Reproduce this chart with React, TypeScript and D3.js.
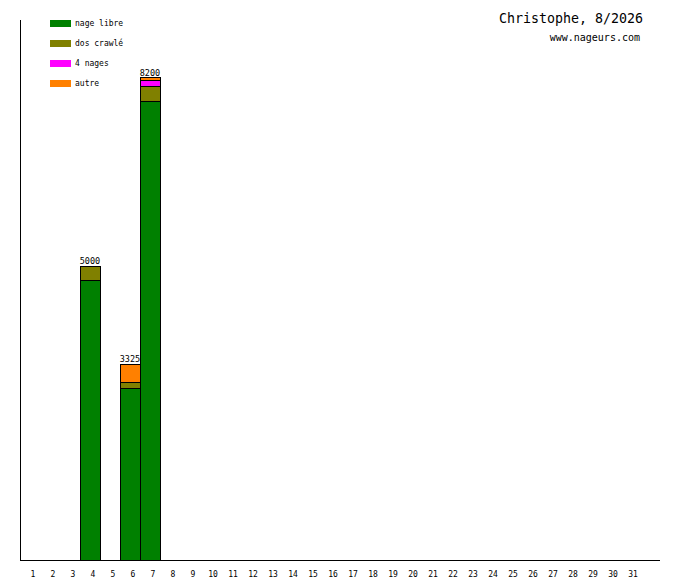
import * as d3 from "d3";

// Daily distances (m) for the month, per stroke
const days = [4, 6, 7];
const nageLibre = [4750, 2925, 7800];
const dosCrawle = [250, 100, 250];
const quatreNages = [0, 0, 100];
const autre = [0, 300, 50];

const seriesNames = ["nage libre", "dos crawlé", "4 nages", "autre"];
const seriesColors = ["#008000", "#808000", "#ff00ff", "#ff8000"];
const dayTicks = d3.range(1, 32);

const title = "Christophe, 8/2026";
const subtitle = "www.nageurs.com";

const width = 680;
const height = 580;
const left = 20;
const right = 660;
const top = 20;
const bottom = 560;
const mono = "'DejaVu Sans Mono', monospace";

export default function App() {
  const rows = days.map((d, i) => ({
    day: d,
    s0: nageLibre[i],
    s1: dosCrawle[i],
    s2: quatreNages[i],
    s3: autre[i],
  }));
  const keys = ["s0", "s1", "s2", "s3"];
  const stacked = d3.stack<any>().keys(keys)(rows);
  const totals = rows.map((r) => r.s0 + r.s1 + r.s2 + r.s3);

  const x = d3
    .scaleBand<number>()
    .domain(d3.range(1, 33))
    .range([left, right])
    .padding(0);
  const y = d3
    .scaleLinear()
    .domain([0, (d3.max(totals) as number) * 1.12])
    .range([bottom, top]);

  return (
    <svg
      width={width}
      height={height}
      style={{ position: "absolute", left: 0, top: 0, background: "#fff" }}
    >
      {/* legend */}
      {seriesNames.map((name, i) => (
        <g key={name} transform={`translate(50,${20 + i * 20})`}>
          <rect width={21} height={7} fill={seriesColors[i]} />
          <text x={25} y={6} fontFamily={mono} fontSize={8} fill="#000">
            {name}
          </text>
        </g>
      ))}

      {/* title */}
      <text x={643} y={23} textAnchor="end" fontFamily={mono} fontSize={13.3} fill="#000">
        {title}
      </text>
      <text x={640} y={41} textAnchor="end" fontFamily={mono} fontSize={10} fill="#000">
        {subtitle}
      </text>

      {/* stacked bars */}
      {stacked.map((layer, li) =>
        layer.map((seg, j) =>
          seg[1] - seg[0] > 0 ? (
            <rect
              key={`${li}-${j}`}
              x={x(rows[j].day) as number}
              y={y(seg[1])}
              width={x.bandwidth()}
              height={y(seg[0]) - y(seg[1])}
              fill={seriesColors[li]}
              stroke="#000"
              strokeWidth={1}
              shapeRendering="crispEdges"
            />
          ) : null
        )
      )}

      {/* totals */}
      {rows.map((r, i) => (
        <text
          key={r.day}
          x={(x(r.day) as number) + x.bandwidth() / 2}
          y={y(totals[i]) - 2}
          textAnchor="middle"
          fontFamily={mono}
          fontSize={8.5}
          fill="#000"
        >
          {totals[i]}
        </text>
      ))}

      {/* axes */}
      <line x1={left} y1={top} x2={left} y2={bottom} stroke="#000" shapeRendering="crispEdges" />
      <line x1={left} y1={bottom} x2={right} y2={bottom} stroke="#000" shapeRendering="crispEdges" />
      {dayTicks.map((d) => (
        <text
          key={d}
          x={(x(d) as number) + x.bandwidth() / 2 + 3}
          y={577}
          textAnchor="middle"
          fontFamily={mono}
          fontSize={8}
          fill="#000"
        >
          {d}
        </text>
      ))}
    </svg>
  );
}
